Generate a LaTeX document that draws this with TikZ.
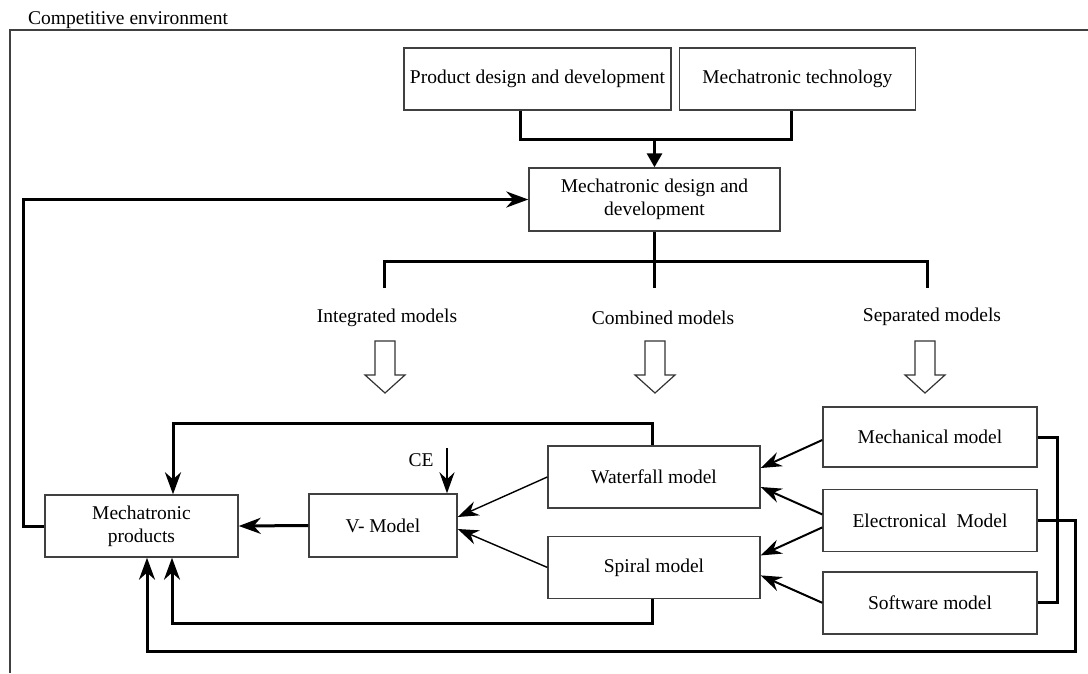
\documentclass[tikz,border=0pt]{standalone}
\usepackage{fontspec}
\setmainfont{Liberation Serif}
\usetikzlibrary{positioning, arrows.meta, calc}

\begin{document}
\begin{tikzpicture}[
    x=1pt, y=-1pt,
    font=\fontsize{19.5}{23}\selectfont,
    % Base box style
    modelbox/.style={rectangle, draw=black!75, line width=1.4pt, align=center, inner sep=2pt},
    % Connector styles
    flow/.style={line width=3pt},
    flowarrow/.style={flow, -{Stealth[length=22pt, width=16pt, inset=7pt]}},
    thinarrow/.style={line width=2pt, -{Stealth[length=21pt, width=15pt, inset=7pt]}},
    thinline/.style={line width=1.4pt, -{Stealth[length=21pt, width=15pt, inset=7pt]}},
    % Hollow block arrow under the model groups
    hollowarrow/.pic={\draw[line width=1.2pt, black!80] (-10,0) -- (-10,34) -- (-20,34) -- (0,52) -- (20,34) -- (10,34) -- (10,0) -- cycle;},
]
\useasboundingbox (0,0) rectangle (1088,673);

% Environment frame
\draw[line width=1.4pt, black!75] (1088,30) -- (10,30) -- (10,673);
\node[anchor=base west, inner sep=0pt] (env) at (28,24) {Competitive environment};

% Top: sources and design
\node[modelbox, minimum width=267pt, minimum height=62pt] (pdd) at (537.5,79) {Product design and development};
\node[modelbox, minimum width=236pt, minimum height=62pt, right=7pt of pdd] (mt) {Mechatronic technology};
\node[modelbox, minimum width=251pt, minimum height=63pt] (mdd) at (654.5,199.5) {Mechatronic design and\\development};

\coordinate (merge) at (654.5,139);
\draw[flow] ([xshift=-17.5pt]pdd.south) |- (merge) -| ([xshift=-6pt]mt.south);
\draw[flow, -{Triangle[length=14pt, width=15pt]}] (merge) -- (mdd.north);

% Branching into the three model groups
\coordinate (bar) at (0,261);
\coordinate (intdrop) at (384,288);
\coordinate (sepdrop) at (927,288);
\draw[flow] (mdd.south) -- (mdd.south |- sepdrop);
\draw[flow] (intdrop) -- (intdrop |- bar) -- (sepdrop |- bar) -- (sepdrop);

\node (intm) at (387,318) {Integrated models};
\node (combm) at (663,318) {Combined models};
\node (sepm) at (932,317) {Separated models};
\pic (intarrow) at (385,341) {hollowarrow};
\pic (combarrow) at (655,341) {hollowarrow};
\pic (separrow) at (925,341) {hollowarrow};

% Bottom: models and products
\node[modelbox, minimum width=193pt, minimum height=62pt] (mp) at (141.5,526) {Mechatronic\\products};
\node[modelbox, minimum width=148pt, minimum height=63pt] (vm) at (383,525.5) {V- Model};
\node[modelbox, minimum width=212pt, minimum height=62pt] (wf) at (654,477) {Waterfall model};
\node[modelbox, minimum width=212pt, minimum height=62pt, below=27pt of wf] (sp) {Spiral model};
\node[modelbox, minimum width=214pt, minimum height=60pt] (mech) at (930,437) {Mechanical model};
\node[modelbox, minimum width=214pt, minimum height=62pt, below=21pt of mech] (elec) {Electronical\ \ Model};
\node[modelbox, minimum width=214pt, minimum height=62pt, below=19pt of elec] (soft) {Software model};

% CE input
\node (ce) at (421,460) {CE};
\coordinate (cetop) at (447,448);
\draw[thinarrow] (cetop) -- (cetop |- vm.north);

% Separated to combined
\draw[thinarrow] ([yshift=-3pt]mech.west) -- ([yshift=9pt]wf.east);
\draw[thinarrow] ([yshift=6pt]elec.west) -- ([yshift=-10pt]wf.east);
\draw[thinarrow] ([yshift=-7pt]elec.west) -- ([yshift=12pt]sp.east);
\draw[thinarrow] (soft.west) -- ([yshift=-8pt]sp.east);

% Combined to V-Model to products
\draw[thinline] (wf.west) -- ([yshift=8.5pt]vm.east);
\draw[thinline] (sp.west) -- ([yshift=-3.5pt]vm.east);
\draw[flowarrow] (vm.west) -- (mp.east);

% Feedback loops
\coordinate (toploop) at (0,423);
\coordinate (lowloop) at (0,623);
\coordinate (outer) at (1075,651);
\draw[flowarrow] ([xshift=-2pt]wf.north) -- ([xshift=-2pt]wf.north |- toploop) -| ([xshift=31.5pt]mp.north);
\draw[flowarrow] ([xshift=-2pt]sp.south) -- ([xshift=-2pt]sp.south |- lowloop) -| ([xshift=30.5pt]mp.south);
\draw[flowarrow] (elec.east) -- (elec.east -| outer) -- (outer) -| ([xshift=5.5pt]mp.south);
\draw[flow] (mech.east) -- ++(20,0) |- (soft.east);
\draw[flowarrow] (mp.west) -- ++(-21,0) |- (mdd.west);

\end{tikzpicture}
\end{document}
